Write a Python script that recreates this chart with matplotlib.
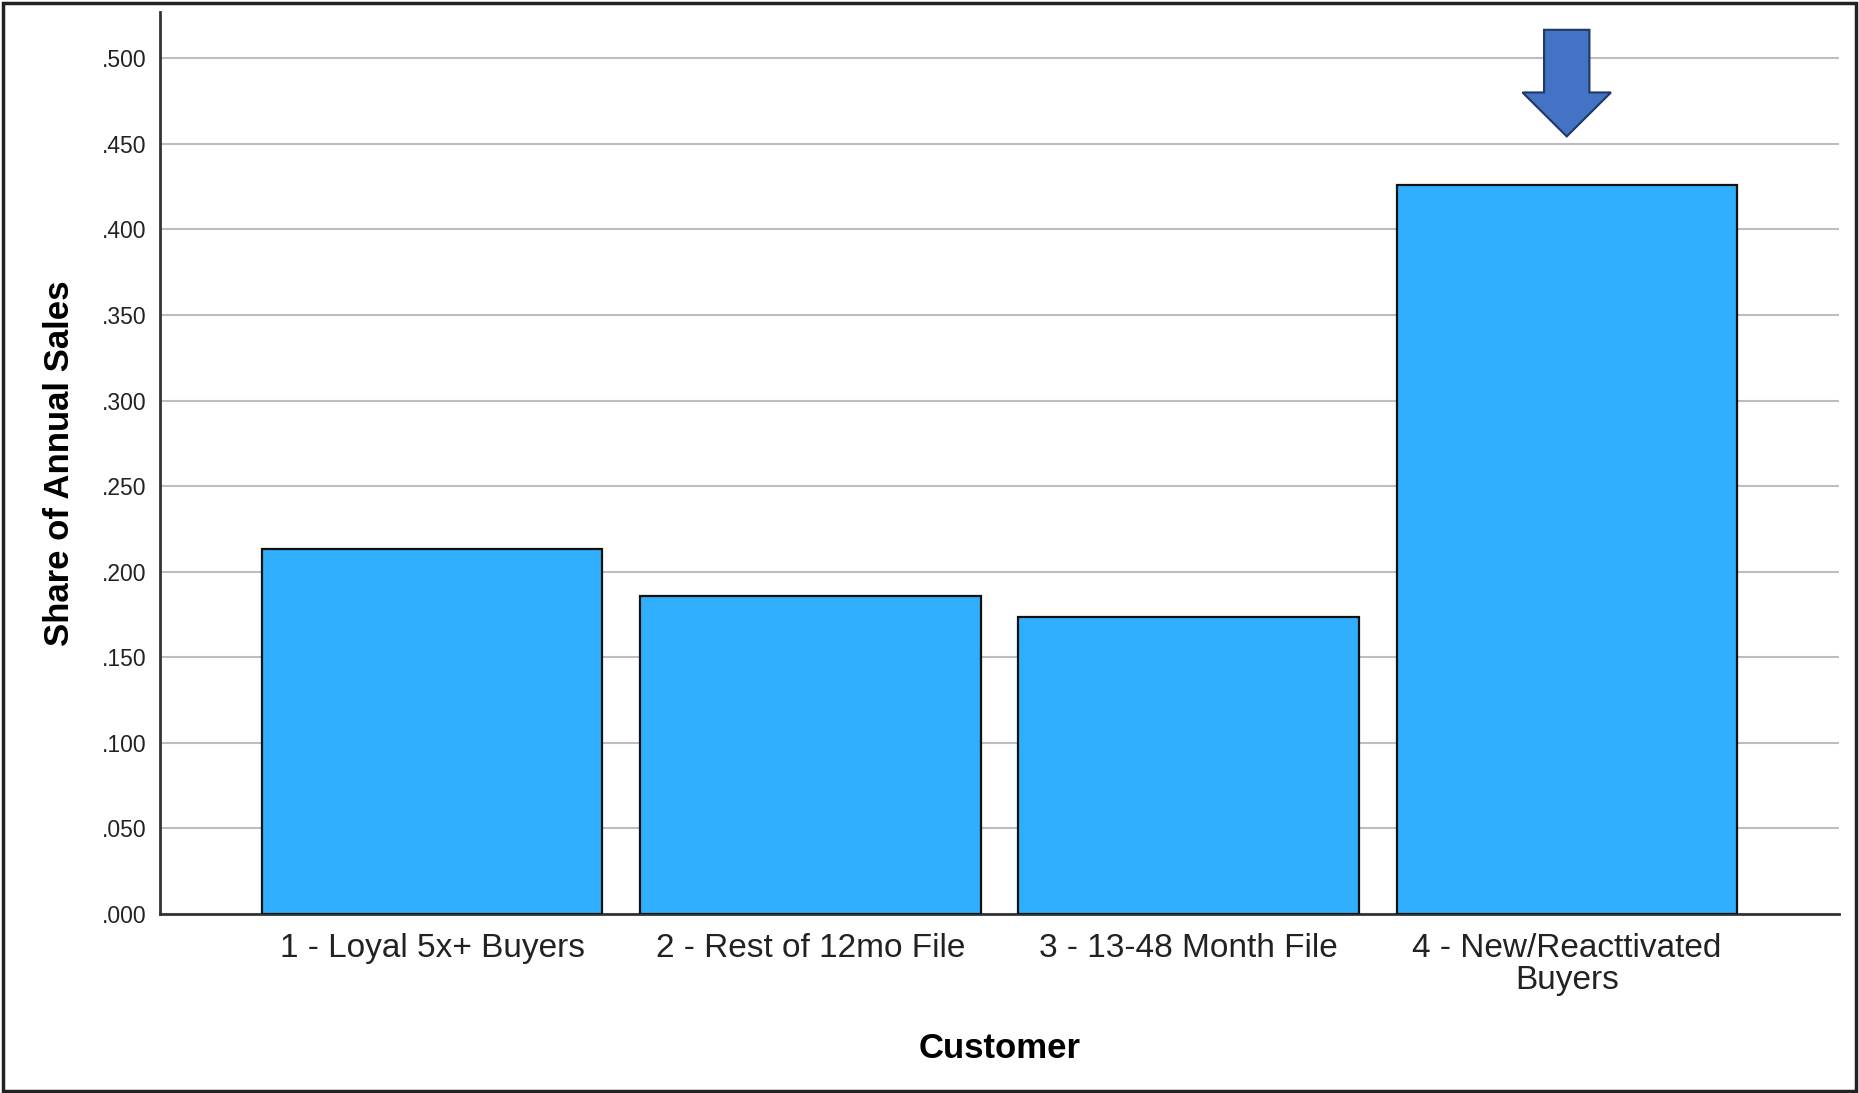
import matplotlib
matplotlib.use("Agg")
import matplotlib.pyplot as plt
from matplotlib.patches import Polygon, Rectangle
from matplotlib.ticker import FuncFormatter

categories = ["1 - Loyal 5x+ Buyers", "2 - Rest of 12mo File", "3 - 13-48 Month File",
              "4 - New/Reacttivated\nBuyers"]
shares = [0.2135, 0.1857, 0.1738, 0.4260]
yticks = [0.0, 0.05, 0.10, 0.15, 0.20, 0.25, 0.30, 0.35, 0.40, 0.45, 0.50]

plt.rcParams['font.family'] = ['Liberation Sans', 'DejaVu Sans']

W, H = 1859, 1093
fig = plt.figure(figsize=(W / 100, H / 100), dpi=100)
ax = fig.add_axes([160 / W, 1 - 914 / H, (1839 - 160) / W, (914 - 12) / H])

x = list(range(len(categories)))
ax.bar(x, shares, width=0.9, color="#31AFFF", edgecolor="#111111", linewidth=1.6, zorder=3)

ax.set_xlim(-0.72, 3.72)
ax.set_ylim(0, 0.527)
ax.set_yticks(yticks)
ax.yaxis.set_major_formatter(FuncFormatter(lambda v, p: f"{v:.3f}".lstrip("0")))
ax.set_xticks(x)
ax.set_xticklabels(categories, fontsize=24, linespacing=1.06)
ax.tick_params(axis='y', length=0, labelsize=16.5, pad=10, labelcolor="#222222")
ax.tick_params(axis='x', length=0, pad=13.5, labelcolor="#222222")
ax.yaxis.grid(True, color="#bdbdbd", linewidth=1.5, zorder=0)
ax.set_axisbelow(True)
for s in ["top", "right"]:
    ax.spines[s].set_visible(False)
for s in ["left", "bottom"]:
    ax.spines[s].set_color("#333333")
    ax.spines[s].set_linewidth(2)

ax.set_ylabel("Share of Annual Sales", fontsize=25, fontweight="bold", labelpad=18)
ax.set_xlabel("Customer", fontsize=25, fontweight="bold", labelpad=26)

# Arrow annotation pointing at the last bar
cx = x[3]
top = shares[3]
sw, hw = 0.06, 0.117
y_tip, y_head, y_top = top + 0.0283, top + 0.054, top + 0.0906
arrow = Polygon([(cx - sw, y_top), (cx + sw, y_top), (cx + sw, y_head), (cx + hw, y_head),
                 (cx, y_tip), (cx - hw, y_head), (cx - sw, y_head)], closed=True,
                facecolor="#4472C4", edgecolor="#1F3864", linewidth=1.5, zorder=5, clip_on=False)
ax.add_patch(arrow)

fig.patches.append(Rectangle((0.0015, 0.002), 0.997, 0.995, transform=fig.transFigure,
                             fill=False, edgecolor="#222222", linewidth=2.5))

fig.savefig("out.png", dpi=100)
